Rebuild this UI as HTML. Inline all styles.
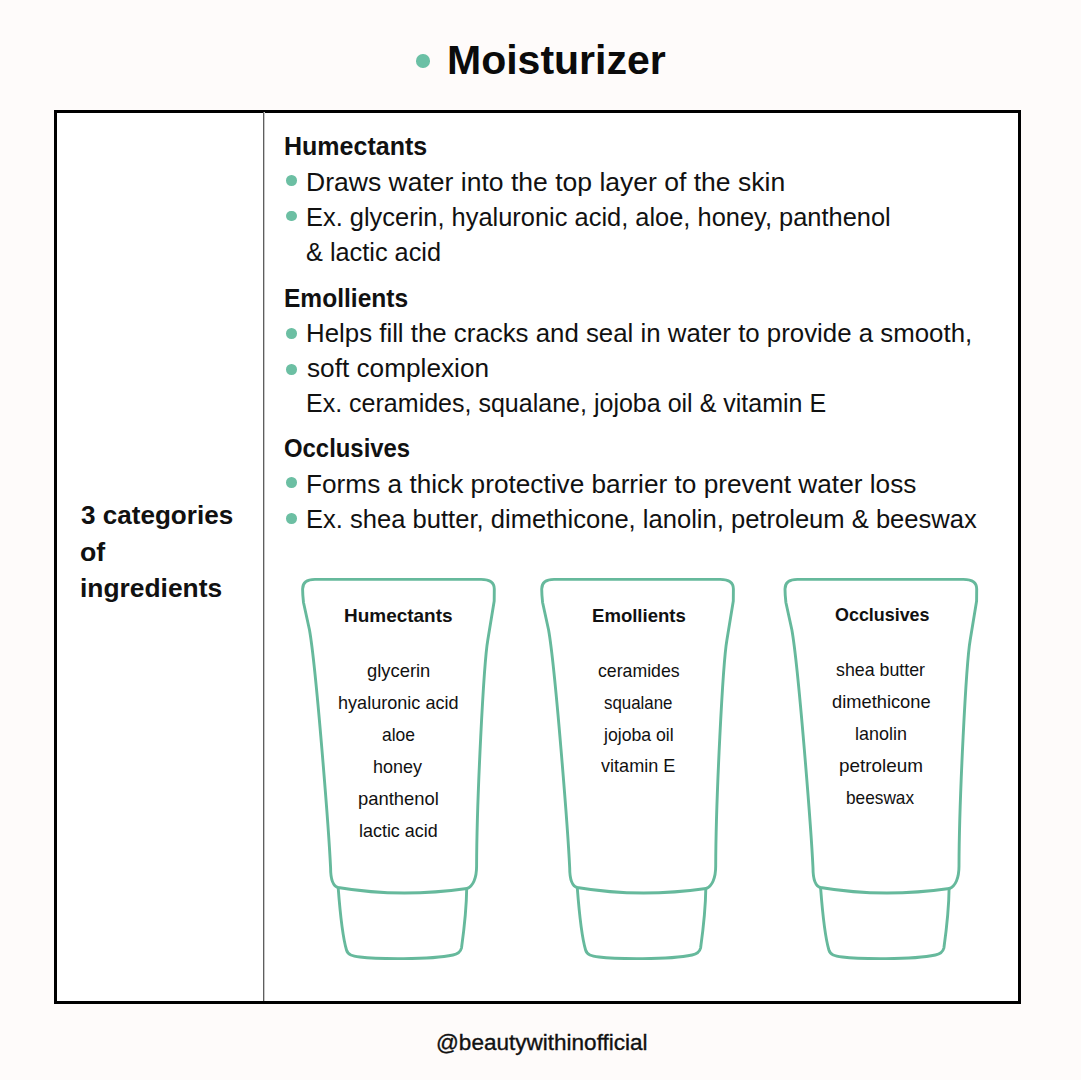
<!DOCTYPE html>
<html><head><meta charset="utf-8"><title>Moisturizer</title>
<style>
html,body{margin:0;padding:0;}
body{width:1081px;height:1080px;background:#fefbfa;position:relative;overflow:hidden;font-family:"Liberation Sans",sans-serif;}
.box{position:absolute;left:54px;top:109.5px;width:967px;height:894px;box-sizing:border-box;border:3px solid #000;background:#fff;}
.vl{position:absolute;left:263px;top:112px;width:1px;height:889px;background:#5e5e5e;box-shadow:1px 0 0 #c8c8c8;}
.t{position:absolute;white-space:nowrap;line-height:normal;transform-origin:0 0;}
.b{position:absolute;width:10.7px;height:10.7px;border-radius:50%;background:#6cbfa3;}
.dot{position:absolute;left:416px;top:54px;width:13.5px;height:13.5px;border-radius:50%;background:#6bc0a5;}
.tubes{position:absolute;left:0;top:0;}
</style></head><body>
<div class="box"></div>
<div class="vl"></div>
<div class="dot"></div>
<svg class="tubes" width="1081" height="1080" viewBox="0 0 1081 1080">
<defs><g id="tube" fill="none" stroke="#66b99c" stroke-width="2.9" stroke-linejoin="round" stroke-linecap="round">
<path d="M315,579.4 L481,579.4 C489.5,579.4 494.3,582 494.3,589 L494.2,601 L487.8,640 C483.6,664 476.8,800 476.6,866 C476.6,878 473,886.5 467,888.5 Q400,898 338,887.5 C333,886 330.6,878 330.6,868 C328.8,830 316.2,668 309.5,630 L303.5,602.5 C303,598 302.6,594 302.6,589 C302.6,582.5 307,579.4 315,579.4 Z"/><path d="M338.2,888 C339.5,905 342,935 346.5,950 C348,955 352,956 360,957 C375,959 430,960 453,955 C458,954 460.5,952 461.5,948 C464,930 466.5,905 466.7,888.5"/></g></defs>
<use href="#tube"/>
<use href="#tube" transform="translate(239.1,0)"/>
<use href="#tube" transform="translate(482.4,0)"/>
</svg>
<div class="b" style="left:286.25px;top:175.05px"></div>
<div class="b" style="left:286.25px;top:210.65px"></div>
<div class="b" style="left:286.25px;top:328.35px"></div>
<div class="b" style="left:286.25px;top:364.15px"></div>
<div class="b" style="left:286.25px;top:477.35px"></div>
<div class="b" style="left:286.25px;top:513.05px"></div>
<div class="t" style="left:446.85px;top:38.20px;font-size:40px;font-weight:700;color:#0b0b0b;transform:scaleX(1.0252)">Moisturizer</div>
<div class="t" style="left:284.24px;top:131.27px;font-size:26px;font-weight:700;color:#111;transform:scaleX(0.9623)">Humectants</div>
<div class="t" style="left:305.56px;top:167.37px;font-size:26px;font-weight:400;color:#111;transform:scaleX(1.0202)">Draws water into the top layer of the skin</div>
<div class="t" style="left:305.64px;top:202.37px;font-size:26px;font-weight:400;color:#111;transform:scaleX(0.9780)">Ex. glycerin, hyaluronic acid, aloe, honey, panthenol</div>
<div class="t" style="left:305.60px;top:237.17px;font-size:26px;font-weight:400;color:#111;transform:scaleX(0.9733)">&amp; lactic acid</div>
<div class="t" style="left:284.11px;top:282.57px;font-size:26px;font-weight:700;color:#111;transform:scaleX(0.9441)">Emollients</div>
<div class="t" style="left:305.61px;top:318.47px;font-size:26px;font-weight:400;color:#111;transform:scaleX(0.9935)">Helps fill the cracks and seal in water to provide a smooth,</div>
<div class="t" style="left:306.80px;top:353.17px;font-size:26px;font-weight:400;color:#111;transform:scaleX(1.0079)">soft complexion</div>
<div class="t" style="left:305.98px;top:388.47px;font-size:26px;font-weight:400;color:#111;transform:scaleX(0.9624)">Ex. ceramides, squalane, jojoba oil &amp; vitamin E</div>
<div class="t" style="left:283.98px;top:432.87px;font-size:26px;font-weight:700;color:#111;transform:scaleX(0.9186)">Occlusives</div>
<div class="t" style="left:305.58px;top:469.07px;font-size:26px;font-weight:400;color:#111;transform:scaleX(1.0081)">Forms a thick protective barrier to prevent water loss</div>
<div class="t" style="left:305.63px;top:504.47px;font-size:26px;font-weight:400;color:#111;transform:scaleX(0.9833)">Ex. shea butter, dimethicone, lanolin, petroleum &amp; beeswax</div>
<div class="t" style="left:81.30px;top:500.17px;font-size:26px;font-weight:700;color:#111;transform:scaleX(1.0027)">3 categories</div>
<div class="t" style="left:80.27px;top:536.77px;font-size:26px;font-weight:700;color:#111;transform:scaleX(1.0259)">of</div>
<div class="t" style="left:80.29px;top:573.07px;font-size:26px;font-weight:700;color:#111;transform:scaleX(1.0146)">ingredients</div>
<div class="t" style="left:343.90px;top:605.00px;font-size:19px;font-weight:700;color:#111;transform:scaleX(0.9983)">Humectants</div>
<div class="t" style="left:367.20px;top:659.80px;font-size:19px;font-weight:400;color:#111;transform:scaleX(0.9676)">glycerin</div>
<div class="t" style="left:338.25px;top:691.60px;font-size:19px;font-weight:400;color:#111;transform:scaleX(0.9515)">hyaluronic acid</div>
<div class="t" style="left:382.20px;top:723.90px;font-size:19px;font-weight:400;color:#111;transform:scaleX(0.9192)">aloe</div>
<div class="t" style="left:372.85px;top:755.80px;font-size:19px;font-weight:400;color:#111;transform:scaleX(0.9460)">honey</div>
<div class="t" style="left:358.13px;top:787.70px;font-size:19px;font-weight:400;color:#111;transform:scaleX(0.9699)">panthenol</div>
<div class="t" style="left:358.96px;top:819.60px;font-size:19px;font-weight:400;color:#111;transform:scaleX(0.9431)">lactic acid</div>
<div class="t" style="left:592.02px;top:604.50px;font-size:19px;font-weight:700;color:#111;transform:scaleX(0.9766)">Emollients</div>
<div class="t" style="left:597.50px;top:659.50px;font-size:19px;font-weight:400;color:#111;transform:scaleX(0.9318)">ceramides</div>
<div class="t" style="left:603.70px;top:691.70px;font-size:19px;font-weight:400;color:#111;transform:scaleX(0.8882)">squalane</div>
<div class="t" style="left:603.93px;top:723.60px;font-size:19px;font-weight:400;color:#111;transform:scaleX(0.9294)">jojoba oil</div>
<div class="t" style="left:601.30px;top:755.30px;font-size:19px;font-weight:400;color:#111;transform:scaleX(0.9514)">vitamin E</div>
<div class="t" style="left:834.90px;top:604.30px;font-size:19px;font-weight:700;color:#111;transform:scaleX(0.9421)">Occlusives</div>
<div class="t" style="left:835.90px;top:659.40px;font-size:19px;font-weight:400;color:#111;transform:scaleX(0.9359)">shea butter</div>
<div class="t" style="left:831.90px;top:691.30px;font-size:19px;font-weight:400;color:#111;transform:scaleX(0.9629)">dimethicone</div>
<div class="t" style="left:854.86px;top:723.40px;font-size:19px;font-weight:400;color:#111;transform:scaleX(0.9445)">lanolin</div>
<div class="t" style="left:838.91px;top:755.40px;font-size:19px;font-weight:400;color:#111;transform:scaleX(0.9944)">petroleum</div>
<div class="t" style="left:845.99px;top:787.40px;font-size:19px;font-weight:400;color:#111;transform:scaleX(0.9075)">beeswax</div>
<div class="t" style="left:435.65px;top:1030.84px;font-size:21.5px;font-weight:400;color:#111;transform:scaleX(1.0479);-webkit-text-stroke:0.35px #111">@beautywithinofficial</div>
</body></html>
